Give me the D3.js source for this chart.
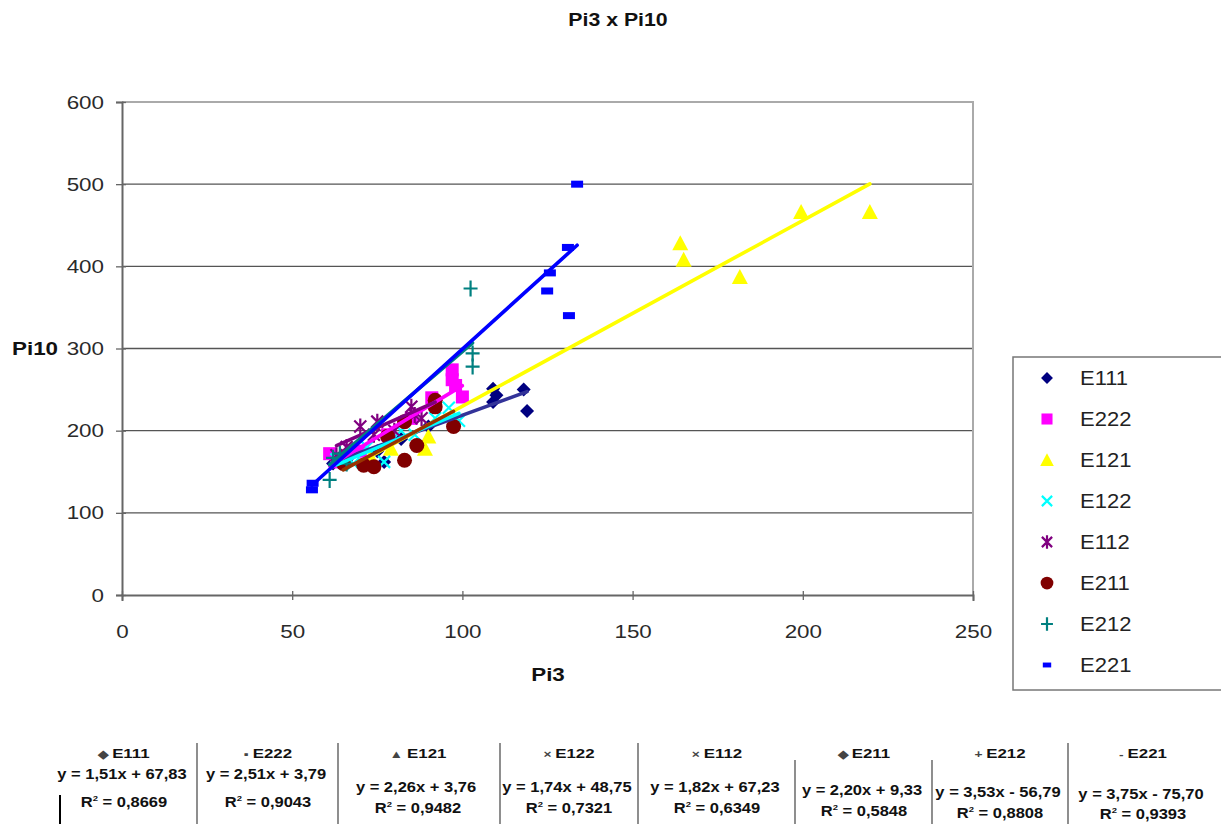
<!DOCTYPE html>
<html><head><meta charset="utf-8">
<script src="https://cdn.jsdelivr.net/npm/d3@7"></script>
<style>
body{margin:0;background:#fff;}
svg{display:block;font-family:"Liberation Sans",Arial,sans-serif;}
</style></head>
<body><svg id="c" width="1221" height="824"></svg>
<script>
const seriesNames = ["E111","E222","E121","E122","E112","E211","E212","E221"];
const seriesColors = ["#000080","#FF00FF","#FFFF00","#00FFFF","#800080","#800000","#008080","#0000FF"];
const lineColors = ["#333399","#FF00FF","#FFFF00","#00FFFF","#800080","#993300","#008080","#0000FF"];
const symbols = ["diamond","square","triangle","x","star","circle","plus","dash"];
const E111 = [[62,160],[66,165],[77,162],[75,175],[82,190],[90,205],[109,251],[110,243],[109,235],[118,250],[119,224]];
const E222 = [[61,172],[63,162],[70,175],[78,195],[85,215],[91,240],[92,232],[97,262],[97,274],[98,255],[100,241]];
const E121 = [[73,168],[79,178],[89,178],[90,193],[164,428],[165,408],[181.5,387],[199.5,466],[219.7,466]];
const E122 = [[63,165],[68,160],[72,180],[77,162],[82,200],[86,195],[92,215],[96,228],[99,212]];
const E112 = [[63,170],[66,180],[70,205],[74,195],[75,211],[80,200],[85,229],[86,219],[88,215],[92,232]];
const E211 = [[65,160],[71,158],[74,156],[78,193],[83,164],[83,211],[86.6,182],[92,237],[92,229],[97.4,205]];
const E212 = [[61,140],[62,167],[64,172],[66,160],[103,294],[103,278],[102.4,373]];
const E221 = [[55.8,128],[56,136],[124.9,370],[125.7,392],[131,423],[131.3,340],[133.7,500]];
const seriesData = [E111,E222,E121,E122,E112,E211,E212,E221];
const slopes = [1.51,2.51,2.26,1.74,1.82,2.20,3.53,3.75];
const intercepts = [67.83,3.79,3.76,48.75,67.23,9.33,-56.79,-75.70];
const eqLabels = ["y = 1,51x + 67,83","y = 2,51x + 3,79","y = 2,26x + 3,76","y = 1,74x + 48,75","y = 1,82x + 67,23","y = 2,20x + 9,33","y = 3,53x - 56,79","y = 3,75x - 75,70"];
const r2Labels = ["0,8669","0,9043","0,9482","0,7321","0,6349","0,5848","0,8808","0,9393"];
const xTicks = [0,50,100,150,200,250];
const yTicks = [0,100,200,300,400,500,600];

const svg = d3.select("#c");
const L=122,R=973,T=102,B=595;
const x = d3.scaleLinear().domain([0,250]).range([L,R]);
const y = d3.scaleLinear().domain([0,600]).range([B,T]);

function stext(g, tx, ty, str, size, sx, anchor, bold, fill){
  return g.append("text").attr("transform",`translate(${tx},${ty}) scale(${sx},1)`)
    .attr("text-anchor",anchor||"start").attr("font-size",size)
    .attr("font-weight",bold?"bold":"normal").attr("fill",fill||"#222").text(str);
}

stext(svg,618,26,"Pi3 x Pi10",19,1.12,"middle",true,"#111");

// gridlines
svg.append("g").selectAll("line").data(yTicks.filter(d=>d>0)).join("line")
  .attr("x1",L).attr("x2",R).attr("y1",d=>y(d)).attr("y2",d=>y(d))
  .attr("stroke","#555").attr("stroke-width",1.3);
svg.append("path").attr("d",`M${L},${T}H${R}V${B}`).attr("fill","none").attr("stroke","#aaa").attr("stroke-width",2);

const ya = svg.append("g").attr("transform",`translate(${L},0)`)
  .call(d3.axisLeft(y).tickValues(yTicks).tickSize(6).tickPadding(0));
const xa = svg.append("g").attr("transform",`translate(0,${B})`)
  .call(d3.axisBottom(x).tickValues(xTicks).tickSize(6).tickPadding(0));
[ya,xa].forEach(a=>{
  a.select(".domain").attr("stroke","#666").attr("stroke-width",2);
  a.selectAll(".tick line").attr("stroke","#666").attr("stroke-width",1.3);
  a.selectAll(".tick text").attr("font-size",17.5).attr("fill","#2a2a2a").attr("font-family","Liberation Sans, Arial, sans-serif");
});
xa.selectAll(".tick line").attr("y1",-4).attr("y2",5);
ya.selectAll(".tick line").attr("x1",4).attr("x2",-6);
ya.selectAll(".tick text").attr("x",null).attr("dy","0.35em").attr("transform","translate(-18,0) scale(1.28,1)");
xa.selectAll(".tick text").attr("y",null).attr("dy","0").attr("transform","translate(0,43) scale(1.28,1)");

stext(svg,12,355,"Pi10",17.5,1.28,"start",true,"#111");
stext(svg,548,681,"Pi3",17.5,1.28,"middle",true,"#111");

function drawSymbol(g, type, color, cx, cy, s){
  s = s||1;
  if(type==="diamond") g.append("path").attr("d",`M${cx},${cy-7*s}L${cx+7*s},${cy}L${cx},${cy+7*s}L${cx-7*s},${cy}Z`).attr("fill",color);
  else if(type==="square") g.append("rect").attr("x",cx-6.5*s).attr("y",cy-6.5*s).attr("width",13*s).attr("height",13*s).attr("fill",color);
  else if(type==="triangle") g.append("path").attr("d",`M${cx},${cy-8*s}L${cx+8*s},${cy+7*s}L${cx-8*s},${cy+7*s}Z`).attr("fill",color);
  else if(type==="x") g.append("path").attr("d",`M${cx-6*s},${cy-6*s}L${cx+6*s},${cy+6*s}M${cx+6*s},${cy-6*s}L${cx-6*s},${cy+6*s}`).attr("stroke",color).attr("stroke-width",2.2);
  else if(type==="star") g.append("path").attr("d",`M${cx-6*s},${cy-6*s}L${cx+6*s},${cy+6*s}M${cx+6*s},${cy-6*s}L${cx-6*s},${cy+6*s}M${cx},${cy-8*s}V${cy+8*s}`).attr("stroke",color).attr("stroke-width",2.2);
  else if(type==="circle") g.append("circle").attr("cx",cx).attr("cy",cy).attr("r",7.5*s).attr("fill",color);
  else if(type==="plus") g.append("path").attr("d",`M${cx-7*s},${cy}H${cx+7*s}M${cx},${cy-8*s}V${cy+8*s}`).attr("stroke",color).attr("stroke-width",2.2);
  else if(type==="dash") g.append("rect").attr("x",cx-6*s).attr("y",cy-3.5*s).attr("width",12*s).attr("height",7*s).attr("fill",color);
}

const pts = svg.append("g");
seriesData.forEach((data,i)=>{
  data.forEach(d=>drawSymbol(pts, symbols[i], seriesColors[i], x(d[0]), y(d[1])));
});
const lines = svg.append("g");
seriesData.forEach((data,i)=>{
  const [x0,x1] = d3.extent(data,d=>d[0]);
  lines.append("line").attr("x1",x(x0)).attr("x2",x(x1))
    .attr("y1",y(slopes[i]*x0+intercepts[i])).attr("y2",y(slopes[i]*x1+intercepts[i]))
    .attr("stroke",lineColors[i]).attr("stroke-width",3.6).attr("stroke-linecap","round");
});

// legend
const lg = svg.append("g");
lg.append("rect").attr("x",1013).attr("y",357).attr("width",230).attr("height",333).attr("fill","#fff").attr("stroke","#777").attr("stroke-width",1.5);
seriesNames.forEach((n,i)=>{
  const cy = 378 + i*41;
  drawSymbol(lg, symbols[i], seriesColors[i], 1047, cy, i===7?0.7:0.85);
  stext(lg,1080,cy+7,n,20,1.1,"start",false,"#222");
});

// bottom table
const tbl = svg.append("g");
const colSep = [197,338,500,638,795,932,1068];
const sepTop = [743,743,743,743,760,760,743];
colSep.forEach((sx,i)=>tbl.append("line").attr("x1",sx).attr("x2",sx).attr("y1",sepTop[i]).attr("y2",824).attr("stroke","#444").attr("stroke-width",1.2));
tbl.append("line").attr("x1",60).attr("x2",60).attr("y1",795).attr("y2",824).attr("stroke","#000").attr("stroke-width",2);
const colCx = [124,268,418,569,717,864,1000,1143];
const hdrY = [758,758,758,758,758,758,758,758];
const eqY = [779,779,792,792,792,795,797,799];
const rY = [807,807,813,813,813,816,818,819];
const hdrSym = ["\u25C6","\u25AA","\u25B2","\u00D7","\u00D7","\u25C6","+","-"];
seriesNames.forEach((n,i)=>{
  const t = stext(tbl,colCx[i],hdrY[i],"",13.5,1.25,"middle",true,"#111");
  t.append("tspan").attr("font-size",11).attr("fill","#444").text(hdrSym[i]+" ");
  t.append("tspan").text(n);
  stext(tbl,colCx[i]-2,eqY[i],eqLabels[i],14,1.18,"middle",true,"#111");
  const r = stext(tbl,colCx[i],rY[i],"",14,1.18,"middle",true,"#111");
  r.append("tspan").text("R");
  r.append("tspan").attr("font-size",8).attr("dy",-6).text("2");
  r.append("tspan").attr("dy",6).text(" = "+r2Labels[i]);
});
</script></body></html>
